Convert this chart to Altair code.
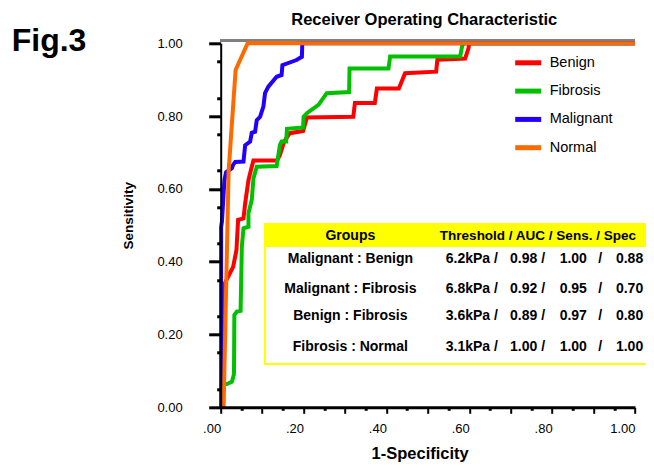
import altair as alt
import pandas as pd

# ---------------- ROC curve data (1-Specificity, Sensitivity) ----------------
benign_fpr = [0.003, 0.006, 0.010, 0.030, 0.038, 0.042, 0.055, 0.059, 0.067, 0.073, 0.079,
              0.136, 0.143, 0.153, 0.167, 0.199, 0.208, 0.320, 0.324, 0.372, 0.377, 0.430,
              0.445, 0.520, 0.523, 0.590, 0.598, 0.600, 1.000]
benign_tpr = [0.000, 0.217, 0.341, 0.386, 0.432, 0.515, 0.519, 0.560, 0.624, 0.652, 0.678,
              0.678, 0.693, 0.730, 0.753, 0.759, 0.796, 0.798, 0.836, 0.836, 0.876, 0.876,
              0.918, 0.922, 0.955, 0.958, 0.986, 1.000, 1.000]

fibrosis_fpr = [0.002, 0.002, 0.0145, 0.027, 0.032, 0.033, 0.039, 0.048, 0.049, 0.051, 0.055,
                0.067, 0.067, 0.075, 0.079, 0.087, 0.135, 0.143, 0.147, 0.158, 0.160, 0.199,
                0.200, 0.208, 0.236, 0.256, 0.310, 0.311, 0.405, 0.409, 0.578, 0.582, 0.585,
                1.000]
fibrosis_tpr = [0.000, 0.063, 0.064, 0.070, 0.091, 0.254, 0.263, 0.265, 0.322, 0.441, 0.492,
                0.496, 0.533, 0.570, 0.629, 0.661, 0.663, 0.721, 0.730, 0.730, 0.765, 0.769,
                0.798, 0.808, 0.831, 0.863, 0.866, 0.931, 0.931, 0.964, 0.964, 0.988, 1.000,
                1.000]

malignant_fpr = [0.001, 0.001, 0.003, 0.009, 0.013, 0.027, 0.030, 0.035, 0.055, 0.059, 0.071,
                 0.075, 0.083, 0.087, 0.095, 0.103, 0.107, 0.115, 0.135, 0.147, 0.149, 0.183,
                 0.196, 0.197, 1.000]
malignant_tpr = [0.000, 0.495, 0.510, 0.624, 0.646, 0.657, 0.666, 0.674, 0.675, 0.720, 0.730,
                 0.754, 0.757, 0.789, 0.798, 0.826, 0.863, 0.881, 0.908, 0.913, 0.940, 0.954,
                 0.963, 1.000, 1.000]

normal_fpr = [0.007, 0.013, 0.019, 0.036, 0.065, 1.000]
normal_tpr = [0.000, 0.320, 0.647, 0.927, 1.000, 1.000]

groups = ["Benign", "Fibrosis", "Malignant", "Normal"]
colors = ["#ff0000", "#00c000", "#2200ff", "#ff6a00"]

# ---------------- table text ----------------
table_header = ["Groups", "Threshold / AUC / Sens. / Spec"]
table_groups = ["Malignant : Benign", "Malignant : Fibrosis", "Benign : Fibrosis", "Fibrosis : Normal"]
table_threshold = ["6.2kPa", "6.8kPa", "3.6kPa", "3.1kPa"]
table_auc = ["0.98", "0.92", "0.89", "1.00"]
table_sens = ["1.00", "0.95", "0.97", "1.00"]
table_spec = ["0.88", "0.70", "0.80", "1.00"]

# ---------------- build frames ----------------
rows = []
for name, xs, ys in [("Benign", benign_fpr, benign_tpr),
                     ("Fibrosis", fibrosis_fpr, fibrosis_tpr),
                     ("Malignant", malignant_fpr, malignant_tpr),
                     ("Normal", normal_fpr, normal_tpr)]:
    for i, (a, b) in enumerate(zip(xs, ys)):
        rows.append({"group": name, "fpr": a, "tpr": b, "idx": i})
curves = pd.DataFrame(rows)

# table layout (in axis units)
ROW_Y = [0.407, 0.325, 0.252, 0.166]
HEAD_Y = 0.471
COL_GROUP, COL_THR, COL_AUC, COL_SENS, COL_SLASH, COL_SPEC = 0.313, 0.669, 0.783, 0.851, 0.916, 0.954
COL_HEAD2 = 0.529
BOX_X0, BOX_X1, BOX_Y0, BOX_Y1, HEAD_Y1 = 0.107, 1.1, 0.119, 0.5036, 0.441

cells = []
cells.append({"t": table_header[0], "x": COL_GROUP, "y": HEAD_Y, "a": "center", "s": 14})
cells.append({"t": table_header[1], "x": COL_HEAD2, "y": HEAD_Y, "a": "left", "s": 13.5})
for i in range(4):
    y = ROW_Y[i]
    cells.append({"t": table_groups[i], "x": COL_GROUP, "y": y, "a": "center", "s": 14})
    cells.append({"t": table_threshold[i] + " /", "x": COL_THR, "y": y, "a": "right", "s": 14})
    cells.append({"t": table_auc[i] + " /", "x": COL_AUC, "y": y, "a": "right", "s": 14})
    cells.append({"t": table_sens[i], "x": COL_SENS, "y": y, "a": "center", "s": 14})
    cells.append({"t": "/", "x": COL_SLASH, "y": y, "a": "center", "s": 14})
    cells.append({"t": table_spec[i], "x": COL_SPEC, "y": y, "a": "left", "s": 14})
cells = pd.DataFrame(cells)

FONT = "Liberation Sans"
xscale = alt.Scale(domain=[0, 1], nice=False, zero=False)
yscale = alt.Scale(domain=[0, 1], nice=False, zero=False)
major_vals = [round(i * 0.1, 1) for i in range(11)]
minor_vals = [round(0.05 + i * 0.1, 2) for i in range(10)]

x_axis = alt.Axis(
    orient="bottom", values=major_vals, ticks=True, domain=True, zindex=1,
    labelExpr="(round(datum.value*100) % 20 == 0) ? (datum.value >= 1 ? '1.00' : replace(format(datum.value, '.2f'), '0.', '.')) : ''",
    labelAlign="right", labelFlush=False, labelOverlap=False, labelBound=False,
    labelFontSize=13, labelColor="black", labelPadding=9,
    tickColor="#000000", tickSize=6, tickWidth=2,
    domainColor="#000000", domainWidth=3, grid=False,
    title="1-Specificity", titleFontSize=16.5, titleFontWeight="bold", titleColor="black",
    titleBaseline="alphabetic", titleX=199, titleY=51.5, titleAlign="center",
)
y_axis = alt.Axis(
    orient="left", values=major_vals, ticks=True, domain=True, zindex=1,
    labelExpr="(round(datum.value*100) % 20 == 0) ? format(datum.value, '.2f') : ''",
    labelFlush=False, labelOverlap=False, labelBound=False,
    labelFontSize=13, labelColor="black", labelPadding=26.5,
    tickColor="#000000", tickSize=12, tickWidth=3,
    domainColor="#000000", domainWidth=2, grid=False,
    title="Sensitivity", titleFontSize=13.5, titleFontWeight="bold", titleColor="black",
    titleX=-88, titleY=172, titleAlign="center", titleBaseline="alphabetic",
)
x_minor = alt.Axis(orient="bottom", values=minor_vals, labels=False, domain=False, grid=False,
                   ticks=True, zindex=1, tickColor="#000000", tickSize=3, tickWidth=3, title=None)
y_minor = alt.Axis(orient="left", values=minor_vals, labels=False, domain=False, grid=False,
                   ticks=True, zindex=1, tickColor="#000000", tickSize=4, tickWidth=3, title=None)

lines = alt.Chart(curves).mark_line(strokeWidth=4, strokeJoin="miter").encode(
    x=alt.X("fpr:Q", scale=xscale, axis=x_axis),
    y=alt.Y("tpr:Q", scale=yscale, axis=y_axis),
    color=alt.Color("group:N", scale=alt.Scale(domain=groups, range=colors),
                    legend=alt.Legend(title=None, orient="none", legendX=292, legendY=4,
                                      symbolType="stroke", symbolStrokeWidth=5, symbolSize=676,
                                      labelFontSize=14.5, labelFont=FONT, labelColor="black",
                                      labelOffset=6, rowPadding=2.3)),
    order="idx:Q",
)

minor_ticks = alt.Chart(curves).mark_point(opacity=0).encode(
    x=alt.X("fpr:Q", scale=xscale, axis=x_minor),
    y=alt.Y("tpr:Q", scale=yscale, axis=y_minor),
)

top_rule = alt.Chart(curves).mark_rule(color="#808080", strokeWidth=2, yOffset=-2.5).encode(
    x=alt.datum(0), x2=alt.datum(1), y=alt.datum(1)
)

box = alt.Chart(curves).mark_rect(fill="white", stroke="#ffff00", strokeWidth=2).encode(
    x=alt.datum(BOX_X0), x2=alt.datum(BOX_X1), y=alt.datum(BOX_Y1), y2=alt.datum(BOX_Y0)
)
head = alt.Chart(curves).mark_rect(fill="#ffff00").encode(
    x=alt.datum(BOX_X0), x2=alt.datum(BOX_X1), y=alt.datum(BOX_Y1), y2=alt.datum(HEAD_Y1)
)

def text_layer(align):
    return alt.Chart(cells[cells["a"] == align]).mark_text(
        align=align, baseline="middle", font=FONT, fontWeight="bold", color="black"
    ).encode(x="x:Q", y="y:Q", text="t:N", size=alt.Size("s:Q", scale=None, legend=None))

table_text = text_layer("left") + text_layer("center") + text_layer("right")

fig_label = alt.Chart(pd.DataFrame({"t": ["Fig.3"]})).mark_text(
    align="left", baseline="alphabetic", font=FONT, fontSize=32, fontWeight="bold", color="black"
).encode(x=alt.value(-209), y=alt.value(8), text="t:N")

title_label = alt.Chart(pd.DataFrame({"t": ["Receiver Operating Characteristic"]})).mark_text(
    align="center", baseline="alphabetic", font=FONT, fontSize=16.5, fontWeight="bold", color="black"
).encode(x=alt.value(203.5), y=alt.value(-18.3), text="t:N")

main = alt.layer(top_rule, box, head, table_text, lines, fig_label, title_label)

chart = alt.layer(main, minor_ticks).resolve_axis(x="independent", y="independent").properties(
    width=414.3, height=364,
    padding={"left": 212.7, "top": 35.3, "right": 11, "bottom": 60.7},
    autosize=alt.AutoSizeParams(type="none"),
).configure(font=FONT).configure_view(stroke=None)

chart.save("out.html", embed_options={"renderer": "svg", "actions": False})
